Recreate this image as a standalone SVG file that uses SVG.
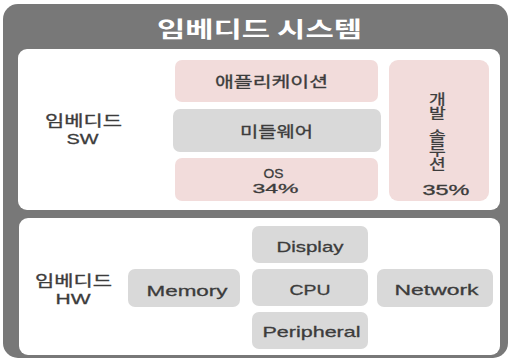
<svg xmlns="http://www.w3.org/2000/svg" width="511" height="362" viewBox="0 0 511 362">
<style>
.t{font-family:"Noto Sans CJK KR","Noto Sans",sans-serif;fill:#3c3c3c;font-size:15px;stroke:#3c3c3c;stroke-width:0.3}
.l{font-family:"Liberation Sans",Arial,sans-serif;fill:#3c3c3c;font-size:15px;stroke:#3c3c3c;stroke-width:0.3}
.v{font-family:"Noto Sans CJK KR",sans-serif;fill:#3c3c3c;font-size:14px;writing-mode:vertical-rl;text-orientation:upright;stroke:#3c3c3c;stroke-width:0.3}
.pink{fill:#f2dcdb}
.gray{fill:#d9d9d9}
.panel{fill:#ffffff}
</style>
<rect x="3" y="4" width="505" height="354" rx="15" fill="#787878"/>
<text x="157" y="36.5" textLength="205" lengthAdjust="spacingAndGlyphs" style="font-family:'Noto Sans CJK KR',sans-serif;font-size:22px;font-weight:bold;fill:#ffffff">임베디드 시스템</text>
<g id="sw-panel">
<rect class="panel" x="18" y="49" width="482" height="161" rx="9"/>
<text class="t" x="45" y="125.5" textLength="77" lengthAdjust="spacingAndGlyphs" style="font-size:14.5px">임베디드</text>
<text class="l" x="66.5" y="143.5" textLength="32" lengthAdjust="spacingAndGlyphs">SW</text>
</g>
<g id="app">
<rect class="pink" x="175" y="60" width="203" height="42" rx="7"/>
<text class="t" x="215" y="86.5" textLength="113" lengthAdjust="spacingAndGlyphs">애플리케이션</text>
</g>
<g id="middleware">
<rect class="gray" x="173" y="109" width="208" height="43" rx="7"/>
<text class="t" x="240" y="137" textLength="73" lengthAdjust="spacingAndGlyphs">미들웨어</text>
</g>
<g id="os">
<rect class="pink" x="175" y="158" width="203" height="43" rx="7"/>
<text class="l" x="263.5" y="177.5" textLength="20" lengthAdjust="spacingAndGlyphs" style="font-size:13.4px">OS</text>
<text class="l" x="252.5" y="192.5" textLength="46" lengthAdjust="spacingAndGlyphs" style="font-size:13.4px">34%</text>
</g>
<g id="devsol">
<rect class="pink" x="389" y="60" width="100" height="141" rx="9"/>
<text class="v" x="437.5" y="92" transform="translate(437.5 0) scale(1.3 1) translate(-437.5 0)">개발</text>
<text class="v" x="437.5" y="129" transform="translate(437.5 0) scale(1.3 1) translate(-437.5 0)">솔루션</text>
<text class="l" x="422.5" y="195" textLength="47" lengthAdjust="spacingAndGlyphs" style="font-size:14px">35%</text>
</g>
<g id="hw-panel">
<rect class="panel" x="19" y="218" width="481" height="137" rx="9"/>
<text class="t" x="35" y="285.5" textLength="77" lengthAdjust="spacingAndGlyphs" style="font-size:14.5px">임베디드</text>
<text class="l" x="55.5" y="303.5" textLength="35" lengthAdjust="spacingAndGlyphs">HW</text>
</g>
<g id="memory">
<rect class="gray" x="128" y="269" width="112" height="38" rx="7"/>
<text class="l" x="146.5" y="295.5" textLength="81" lengthAdjust="spacingAndGlyphs">Memory</text>
</g>
<g id="display">
<rect class="gray" x="252" y="226" width="116" height="37" rx="7"/>
<text class="l" x="276.5" y="251.5" textLength="67" lengthAdjust="spacingAndGlyphs">Display</text>
</g>
<g id="cpu">
<rect class="gray" x="252" y="269" width="116" height="37" rx="7"/>
<text class="l" x="289.5" y="295" textLength="41" lengthAdjust="spacingAndGlyphs">CPU</text>
</g>
<g id="peripheral">
<rect class="gray" x="252" y="312" width="116" height="37" rx="7"/>
<text class="l" x="262.5" y="336.5" textLength="98" lengthAdjust="spacingAndGlyphs">Peripheral</text>
</g>
<g id="network">
<rect class="gray" x="377" y="269" width="116" height="38" rx="7"/>
<text class="l" x="394.5" y="295" textLength="84" lengthAdjust="spacingAndGlyphs">Network</text>
</g>
<g id="connectors"></g>
</svg>
